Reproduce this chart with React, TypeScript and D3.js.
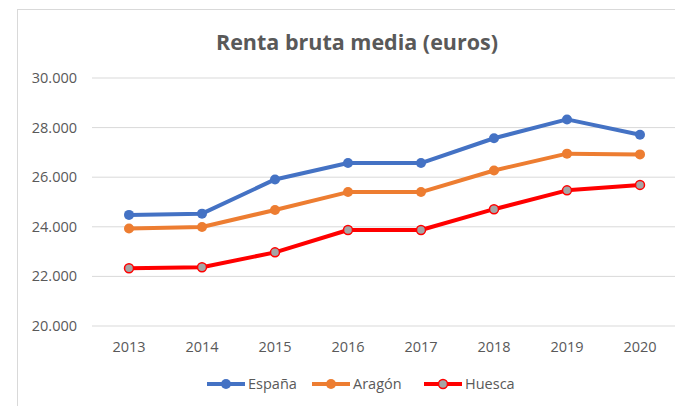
import React from 'react';
import * as d3 from 'd3';

const YEARS = ['2013', '2014', '2015', '2016', '2017', '2018', '2019', '2020'];
const ESPANA = [24480, 24530, 25910, 26570, 26570, 27570, 28330, 27710];
const ARAGON = [23930, 23990, 24680, 25400, 25400, 26270, 26950, 26920];
const HUESCA = [22330, 22370, 22970, 23870, 23870, 24710, 25470, 25690];
const Y_TICKS = [20000, 22000, 24000, 26000, 28000, 30000];

const SERIES = [
  { name: 'España', values: ESPANA, color: '#4472C4', marker: '#4472C4' },
  { name: 'Aragón', values: ARAGON, color: '#ED7D31', marker: '#ED7D31' },
  { name: 'Huesca', values: HUESCA, color: '#FF0000', marker: '#A5A5A5' },
];

const W = 675;
const H = 406;
const FONT = "'Open Sans', 'Noto Sans', sans-serif";
const TEXT = '#595959';

const App: React.FC = () => {
  const x = d3.scaleBand<string>().domain(YEARS).range([92.5, 676.5]);
  const y = d3.scaleLinear().domain([20000, 30000]).range([326, 78]);
  const fmt = (v: number) => d3.format(',')(v).replace(/,/g, '.');
  const cx = (yr: string) => (x(yr) ?? 0) + x.bandwidth() / 2;

  const line = d3
    .line<number>()
    .x((_, i) => cx(YEARS[i]))
    .y((d) => y(d));

  const legendX = [207, 312, 424];

  return (
    <svg
      width={W}
      height={H}
      style={{ position: 'absolute', left: 0, top: 0, background: '#fff' }}
      fontFamily={FONT}
    >
      <rect x={0} y={0} width={W} height={H} fill="#fff" />
      <rect x={17.5} y={9.5} width={W + 20} height={H + 20} fill="#fff" stroke="#D9D9D9" />
      <text x={357} y={50} textAnchor="middle" fontSize={21.5} fontWeight="bold" fill={TEXT}>
        Renta bruta media (euros)
      </text>
      {Y_TICKS.map((t) => (
        <g key={t}>
          <line x1={92} x2={676} y1={y(t)} y2={y(t)} stroke="#D9D9D9" strokeWidth={1} />
          <text x={77} y={y(t)} dy="0.35em" textAnchor="end" fontSize={14.5} fill={TEXT}>
            {fmt(t)}
          </text>
        </g>
      ))}
      {YEARS.map((yr) => (
        <text key={yr} x={cx(yr)} y={352} textAnchor="middle" fontSize={14.5} fill={TEXT}>
          {yr}
        </text>
      ))}
      {SERIES.map((s) => (
        <g key={s.name}>
          <path d={line(s.values) ?? ''} fill="none" stroke={s.color} strokeWidth={4} strokeLinejoin="round" />
          {s.values.map((v, i) => (
            <circle
              key={i}
              cx={cx(YEARS[i])}
              cy={y(v)}
              r={s.marker === s.color ? 5 : 4.5}
              fill={s.marker}
              stroke={s.color}
              strokeWidth={s.marker === s.color ? 0 : 1.5}
            />
          ))}
        </g>
      ))}
      {SERIES.map((s, i) => (
        <g key={s.name} transform={`translate(${legendX[i]},384)`}>
          <line x1={0} x2={38} y1={0} y2={0} stroke={s.color} strokeWidth={4} />
          <circle
            cx={19}
            cy={0}
            r={s.marker === s.color ? 5 : 4.5}
            fill={s.marker}
            stroke={s.color}
            strokeWidth={s.marker === s.color ? 0 : 1.5}
          />
          <text x={41} y={0} dy="0.35em" fontSize={14.5} fill={TEXT}>
            {s.name}
          </text>
        </g>
      ))}
    </svg>
  );
};

export default App;
